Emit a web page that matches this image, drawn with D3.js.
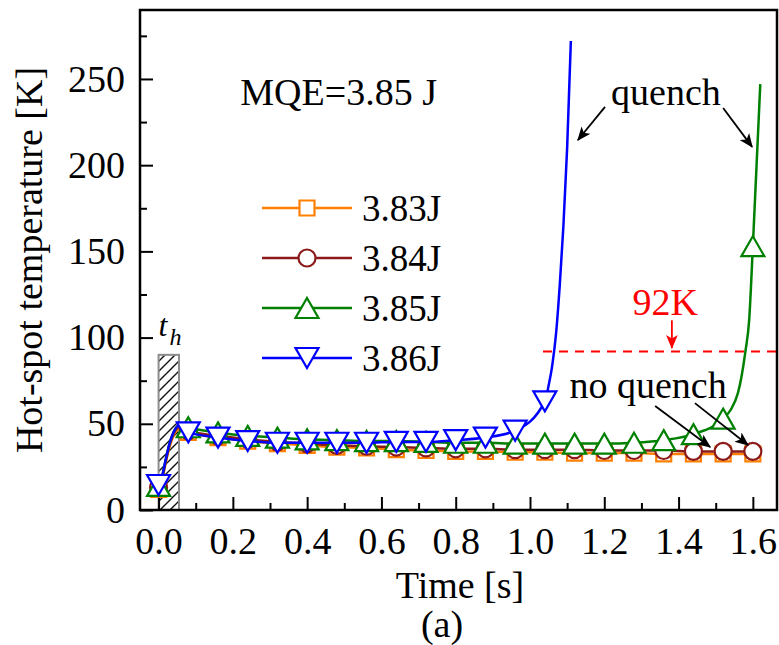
<!DOCTYPE html>
<html><head><meta charset="utf-8">
<script src="https://cdn.jsdelivr.net/npm/d3@7"></script>
<style>
html,body{margin:0;padding:0;background:#fff;}
</style></head>
<body><svg id="chart" width="779" height="645"></svg>
<script>
// ---- data ----
const seriesNames = ["3.83J", "3.84J", "3.85J", "3.86J"];
const seriesColors = ["#ff8000", "#8b1a1a", "#008000", "#0000ff"];
const seriesSymbols = ["square", "circle", "triUp", "triDown"];
const markerTimes = [0,0.08,0.16,0.24,0.32,0.40,0.48,0.56,0.64,0.72,0.80,0.88,0.96,1.04,1.12,1.20,1.28,1.36,1.44,1.52,1.60];

const t383 = [0,0.01,0.02,0.03,0.04,0.05,0.06,0.08,0.16,0.24,0.32,0.40,0.48,0.56,0.64,0.72,0.80,0.88,0.96,1.04,1.12,1.20,1.28,1.36,1.44,1.52,1.60];
const T383 = [12,18,28,37,43,46.5,47.5,45,42,40,38.5,37.5,36.5,36,35,34.5,34,34,33.5,33.5,33,33,33,32.5,32.5,32.5,32.5];
const t384 = [0,0.01,0.02,0.03,0.04,0.05,0.06,0.08,0.16,0.24,0.32,0.40,0.48,0.56,0.64,0.72,0.80,0.88,0.96,1.04,1.12,1.20,1.28,1.36,1.44,1.52,1.60];
const T384 = [13,19,29,38,44,47.5,48.5,46,43,41,39.5,38.5,37.5,37,36.5,36,35.5,35.5,35,35,35,34.5,34.5,34.5,34,34,34];
const t385 = [0,0.01,0.02,0.03,0.04,0.05,0.06,0.08,0.16,0.24,0.32,0.40,0.48,0.56,0.64,0.72,0.80,0.88,0.96,1.04,1.12,1.20,1.28,1.36,1.44,1.52,1.54,1.56,1.57,1.58,1.59,1.60,1.61,1.62];
const T385 = [14,20,30,39,45,48.5,49.5,48,45,43,42,41,40.5,40,40,39.5,39,39,38.5,38.5,38.5,38.5,39,40.5,44,53,58,68,78,92,110,153,200,247];
const t386 = [0,0.01,0.02,0.03,0.04,0.05,0.06,0.08,0.16,0.24,0.32,0.40,0.48,0.56,0.64,0.72,0.80,0.88,0.96,1.04,1.05,1.06,1.07,1.08,1.09,1.10,1.11];
const T386 = [14.5,20,30,39,45,48.5,49.5,45,42,40,39,39,39,39,39.5,39.5,40.5,42,46,63,72,84,102,130,165,210,272];

const xTicksMajor = [0,0.2,0.4,0.6,0.8,1.0,1.2,1.4,1.6];
const xTicksMinor = [0.1,0.3,0.5,0.7,0.9,1.1,1.3,1.5];
const yTicksMajor = [0,50,100,150,200,250];
const yTicksMinor = [25,75,125,175,225,275];

const criticalTemp = 92;
const heatTime = 0.055;

// ---- layout ----
const svg = d3.select("#chart");
const L = 140, R = 777, T = 10, B = 510;
const x = d3.scaleLinear().domain([-0.05, 1.665]).range([L, R]);
const y = d3.scaleLinear().domain([0, 290]).range([B, T]);

const defs = svg.append("defs");
const hp = defs.append("pattern").attr("id","hatch").attr("patternUnits","userSpaceOnUse")
  .attr("width",10).attr("height",10);
hp.append("path").attr("d","M-2,2 L2,-2 M0,10 L10,0 M8,12 L12,8").attr("stroke","#111").attr("stroke-width",1.4);
function arrowMarker(id, color){
  defs.append("marker").attr("id",id).attr("viewBox","0 0 12 10").attr("refX",11).attr("refY",5)
    .attr("markerWidth",14).attr("markerHeight",12).attr("markerUnits","userSpaceOnUse").attr("orient","auto")
    .append("path").attr("d","M0,0 L12,5 L0,10 L3,5 Z").attr("fill",color);
}
arrowMarker("arrK","#000");
arrowMarker("arrR","#ff0000");

// heating box
svg.append("rect").attr("x",x(0)).attr("y",y(90)).attr("width",x(heatTime)-x(0)).attr("height",y(0)-y(90))
  .attr("fill","url(#hatch)").attr("stroke","#8c8c8c").attr("stroke-width",2);
const th = svg.append("text").attr("x",x(0)).attr("y",y(101)).attr("font-size",32).attr("font-style","italic");
th.append("tspan").text("t");
th.append("tspan").attr("dx",2).attr("dy",9).attr("font-size",24).text("h");

// critical temp line
svg.append("line").attr("x1",x(1.035)).attr("x2",R).attr("y1",y(criticalTemp)).attr("y2",y(criticalTemp))
  .attr("stroke","#ff0000").attr("stroke-width",2).attr("stroke-dasharray","9,7");

// axes
const xAxisMajor = d3.axisBottom(x).tickValues(xTicksMajor).tickFormat(d3.format(".1f")).tickSizeInner(-13).tickSizeOuter(0).tickPadding(17);
const gx = svg.append("g").attr("transform",`translate(0,${B})`).call(xAxisMajor);
gx.append("g").call(d3.axisBottom(x).tickValues(xTicksMinor).tickFormat("").tickSizeInner(-7).tickSizeOuter(0));
const yAxisMajor = d3.axisLeft(y).tickValues(yTicksMajor).tickFormat(d3.format("d")).tickSizeInner(-13).tickSizeOuter(0).tickPadding(15);
const gy = svg.append("g").attr("transform",`translate(${L},0)`).call(yAxisMajor);
gy.append("g").call(d3.axisLeft(y).tickValues(yTicksMinor).tickFormat("").tickSizeInner(-7).tickSizeOuter(0));
svg.selectAll(".domain").remove();
svg.selectAll(".tick line").attr("stroke","#000").attr("stroke-width",2);
svg.selectAll(".tick text").attr("font-size",38).attr("fill","#000");

// frame
svg.append("rect").attr("x",L).attr("y",T).attr("width",R-L).attr("height",B-T)
  .attr("fill","none").attr("stroke","#000").attr("stroke-width",2.5);

// symbols
function symPath(kind){
  if(kind==="square") return d3.symbol(d3.symbolSquare, 15*15)();
  if(kind==="circle") return d3.symbol(d3.symbolCircle, Math.PI*8.5*8.5)();
  const w=23, h=20;
  if(kind==="triUp") return `M0,${-h/2}L${w/2},${h/2}L${-w/2},${h/2}Z`;
  return `M0,${h/2}L${w/2},${-h/2}L${-w/2},${-h/2}Z`;
}

const allT = [t383,t384,t385,t386];
const allV = [T383,T384,T385,T386];
const line = d3.line().x(d=>x(d[0])).y(d=>y(d[1])).curve(d3.curveMonotoneX);
allT.forEach((ts,i)=>{
  const pts = ts.map((t,j)=>[t, allV[i][j]]);
  svg.append("path").datum(pts).attr("d",line).attr("fill","none")
    .attr("stroke",seriesColors[i]).attr("stroke-width",2.5);
  const mk = pts.filter(p=>markerTimes.some(m=>Math.abs(m-p[0])<1e-6));
  svg.append("g").selectAll("path").data(mk).join("path")
    .attr("transform",d=>`translate(${x(d[0])},${y(d[1])})`)
    .attr("d",symPath(seriesSymbols[i]))
    .attr("fill","#fff").attr("stroke",seriesColors[i]).attr("stroke-width",2.2);
});

// legend
const lg = svg.append("g");
seriesNames.forEach((n,i)=>{
  const yy = 208 + i*50;
  lg.append("line").attr("x1",262).attr("x2",352).attr("y1",yy).attr("y2",yy)
    .attr("stroke",seriesColors[i]).attr("stroke-width",2.5);
  lg.append("path").attr("transform",`translate(307,${yy})`).attr("d",symPath(seriesSymbols[i]))
    .attr("fill","#fff").attr("stroke",seriesColors[i]).attr("stroke-width",2.2);
  lg.append("text").attr("x",362).attr("y",yy+13).attr("font-size",37).text(n);
});

// annotations
svg.append("text").attr("x",x(0.22)).attr("y",y(235)).attr("font-size",38).text("MQE=3.85 J");
svg.append("text").attr("x",x(1.366)).attr("y",y(235)).attr("font-size",38).attr("text-anchor","middle").text("quench");
function arrow(t1,v1,t2,v2,color,mid){
  svg.append("line").attr("x1",x(t1)).attr("y1",y(v1)).attr("x2",x(t2)).attr("y2",y(v2))
    .attr("stroke",color).attr("stroke-width",1.8).attr("marker-end",`url(#${mid})`);
}
arrow(1.202,233.8,1.129,214.6,"#000","arrK");
arrow(1.52,233.2,1.598,210.6,"#000","arrK");
svg.append("text").attr("x",x(1.364)).attr("y",y(113)).attr("font-size",38).attr("text-anchor","middle")
  .attr("fill","#ff0000").attr("class","red").text("92K");
arrow(1.382,110,1.382,94,"#ff0000","arrR");
svg.append("text").attr("x",x(1.318)).attr("y",y(65)).attr("font-size",38).attr("text-anchor","middle").text("no quench");
arrow(1.337,60.3,1.485,36.5,"#000","arrK");
arrow(1.444,62,1.587,37.7,"#000","arrK");

// axis titles
svg.append("text").attr("transform","translate(42,260) rotate(-90)").attr("text-anchor","middle")
  .attr("font-size",38).text("Hot-spot temperature [K]");
svg.append("text").attr("x",460).attr("y",598).attr("text-anchor","middle").attr("font-size",38).text("Time [s]");
svg.append("text").attr("x",442).attr("y",637).attr("text-anchor","middle").attr("font-size",38).text("(a)");

svg.selectAll("text").style("font-family","Liberation Serif");
svg.selectAll("text:not(.red)").style("fill","#000");
</script></body></html>
